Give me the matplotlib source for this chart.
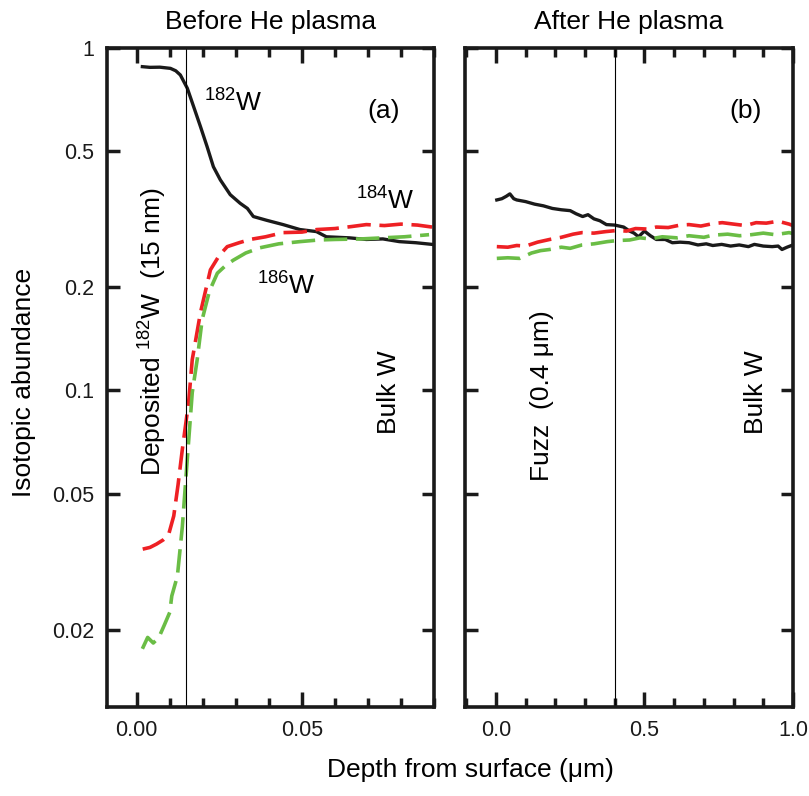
import matplotlib
matplotlib.use("Agg")
import matplotlib.pyplot as plt
from matplotlib.ticker import FixedLocator, FixedFormatter, MultipleLocator

plt.rcParams["font.family"] = ["Liberation Sans", "DejaVu Sans"]
plt.rcParams["mathtext.fontset"] = "custom"
plt.rcParams["mathtext.rm"] = "Liberation Sans"
plt.rcParams["mathtext.it"] = "Liberation Sans:italic"

# panel (a): before He plasma, depth in um
a_x_182 = [0.0017, 0.004, 0.007, 0.0102, 0.0118, 0.0132, 0.0153, 0.0172, 0.0193, 0.0213, 0.0232,
           0.0253, 0.0283, 0.0313, 0.0335, 0.0353, 0.0393, 0.0443, 0.0494, 0.0544, 0.0574,
           0.0644, 0.0695, 0.0745, 0.0795, 0.0845, 0.0894]
a_y_182 = [0.882, 0.878, 0.879, 0.872, 0.858, 0.834, 0.763, 0.675, 0.589, 0.515, 0.450,
           0.412, 0.373, 0.352, 0.340, 0.322, 0.314, 0.305, 0.295, 0.291, 0.281,
           0.279, 0.276, 0.277, 0.272, 0.270, 0.267]

a_x_184 = [0.0018, 0.004, 0.006, 0.008, 0.0096, 0.0112, 0.0125, 0.0138, 0.0157, 0.0168, 0.0193,
           0.0223, 0.0250, 0.0274, 0.0310, 0.0343, 0.0390, 0.0443, 0.0500, 0.0545, 0.0600,
           0.0650, 0.0695, 0.0750, 0.0800, 0.0850, 0.0894]
a_y_184 = [0.0344, 0.0348, 0.0356, 0.0366, 0.0378, 0.043, 0.053, 0.0673, 0.0923, 0.123, 0.169,
           0.225, 0.248, 0.263, 0.270, 0.276, 0.281, 0.289, 0.290, 0.295, 0.297,
           0.301, 0.305, 0.303, 0.306, 0.304, 0.300]

a_x_186 = [0.0017, 0.0033, 0.0050, 0.0067, 0.0083, 0.0100, 0.0106, 0.0123, 0.0138, 0.0153, 0.0168,
           0.0183, 0.0198, 0.022, 0.0244, 0.0270, 0.0292, 0.0330, 0.0373, 0.0430, 0.0494,
           0.0550, 0.0600, 0.0680, 0.0744, 0.0810, 0.0885]
a_y_186 = [0.0176, 0.0190, 0.0183, 0.0190, 0.0206, 0.0225, 0.0251, 0.0287, 0.040, 0.063, 0.0986,
           0.123, 0.161, 0.195, 0.220, 0.232, 0.240, 0.252, 0.261, 0.268, 0.272,
           0.275, 0.276, 0.277, 0.279, 0.281, 0.285]

# panel (b): after He plasma, depth in um
b_x_182 = [0.003, 0.02, 0.035, 0.047, 0.06, 0.07, 0.10, 0.13, 0.16, 0.19, 0.22, 0.25, 0.27, 0.292,
           0.31, 0.33, 0.35, 0.372, 0.40, 0.43, 0.45, 0.465, 0.48, 0.50, 0.52, 0.54, 0.57,
           0.594, 0.62, 0.65, 0.68, 0.708, 0.73, 0.76, 0.79, 0.819, 0.85, 0.87, 0.90, 0.93,
           0.95, 0.963, 0.98, 1.0]
b_y_182 = [0.360, 0.363, 0.369, 0.375, 0.363, 0.360, 0.356, 0.350, 0.346, 0.340, 0.337, 0.335, 0.328,
           0.322, 0.326, 0.317, 0.313, 0.305, 0.304, 0.300, 0.292, 0.288, 0.281, 0.292, 0.283,
           0.276, 0.276, 0.270, 0.271, 0.270, 0.266, 0.268, 0.265, 0.267, 0.264, 0.266, 0.263,
           0.267, 0.264, 0.263, 0.264, 0.258, 0.262, 0.266]

b_x_184 = [0.003, 0.04, 0.07, 0.10, 0.14, 0.181, 0.22, 0.26, 0.29, 0.33, 0.37, 0.405, 0.44,
           0.47, 0.51, 0.54, 0.58, 0.62, 0.65, 0.69, 0.73, 0.762, 0.80, 0.84, 0.876, 0.91,
           0.95, 0.987, 1.0]
b_y_184 = [0.263, 0.262, 0.265, 0.264, 0.271, 0.276, 0.280, 0.286, 0.289, 0.288, 0.291, 0.293,
           0.292, 0.297, 0.296, 0.300, 0.299, 0.304, 0.305, 0.302, 0.307, 0.309, 0.306, 0.303,
           0.309, 0.308, 0.312, 0.306, 0.303]

b_x_186 = [0.003, 0.04, 0.08, 0.12, 0.15, 0.181, 0.22, 0.25, 0.29, 0.33, 0.375, 0.41, 0.45,
           0.485, 0.52, 0.56, 0.61, 0.65, 0.70, 0.73, 0.78, 0.82, 0.86, 0.90, 0.94, 0.987, 1.0]
b_y_186 = [0.243, 0.244, 0.243, 0.252, 0.256, 0.258, 0.262, 0.260, 0.266, 0.268, 0.272, 0.274,
           0.275, 0.279, 0.277, 0.281, 0.279, 0.283, 0.280, 0.284, 0.286, 0.283, 0.285, 0.288,
           0.285, 0.289, 0.287]

y_ticks = [0.02, 0.05, 0.1, 0.2, 0.5, 1]
y_tick_labels = ["0.02", "0.05", "0.1", "0.2", "0.5", "1"]

black = "#1a1a1a"
red = "#ee2024"
green = "#6abd45"
dash = (0, (6.5, 2.4))

fig = plt.figure(figsize=(8.09, 7.96), dpi=100)
ax_a = fig.add_axes([0.1323, 0.1118, 0.4042, 0.8279])
ax_b = fig.add_axes([0.5748, 0.1118, 0.4054, 0.8279])

ax_a.plot(a_x_182, a_y_182, color=black, lw=2.4)
ax_a.plot(a_x_184, a_y_184, color=red, lw=2.6, linestyle=dash)
ax_a.plot(a_x_186, a_y_186, color=green, lw=2.6, linestyle=dash)
ax_a.axvline(0.015, color="black", lw=0.8)

ax_b.plot(b_x_182, b_y_182, color=black, lw=2.4)
ax_b.plot(b_x_184, b_y_184, color=red, lw=2.6, linestyle=dash)
ax_b.plot(b_x_186, b_y_186, color=green, lw=2.6, linestyle=dash)
ax_b.axvline(0.4, color="black", lw=0.8)

for ax in (ax_a, ax_b):
    ax.set_yscale("log")
    ax.set_ylim(0.0119, 1.0)
    ax.yaxis.set_major_locator(FixedLocator(y_ticks))
    ax.yaxis.set_minor_locator(FixedLocator([]))
    ax.tick_params(which="both", direction="in", top=True, right=True, width=2.5,
                   labelsize=15.5, pad=9, colors=black)
    ax.tick_params(axis="x", which="major", length=11)
    ax.tick_params(axis="x", which="minor", length=6.5)
    ax.tick_params(axis="y", which="major", length=9)
    for s in ax.spines.values():
        s.set_linewidth(2.6)
        s.set_color(black)

ax_a.yaxis.set_major_formatter(FixedFormatter(y_tick_labels))
ax_b.tick_params(axis="y", labelleft=False)

ax_a.set_xlim(-0.009, 0.09)
ax_a.xaxis.set_major_locator(FixedLocator([0.0, 0.05]))
ax_a.xaxis.set_major_formatter(FixedFormatter(["0.00", "0.05"]))
ax_a.xaxis.set_minor_locator(MultipleLocator(0.01))

ax_b.set_xlim(-0.104, 1.0)
ax_b.xaxis.set_major_locator(FixedLocator([0.0, 0.5, 1.0]))
ax_b.xaxis.set_major_formatter(FixedFormatter(["0.0", "0.5", "1.0"]))
ax_b.xaxis.set_minor_locator(MultipleLocator(0.1))

fs = 19
ax_a.set_title("Before He plasma", fontsize=fs, pad=14)
ax_b.set_title("After He plasma", fontsize=fs, pad=14)
fig.text(24 / 809, 0.52, "Isotopic abundance", fontsize=fs, rotation=90, ha="center", va="center")
fig.text(0.5816, 0.024, "Depth from surface (\u03bcm)", fontsize=fs, ha="center", va="baseline")

ax_a.text(0.0205, 0.65, r"$^{182}$W", fontsize=fs, va="baseline")
ax_a.text(0.0665, 0.337, r"$^{184}$W", fontsize=fs, va="baseline")
ax_a.text(0.0364, 0.19, r"$^{186}$W", fontsize=fs, va="baseline")
ax_a.text(0.0747, 0.655, "(a)", fontsize=fs, ha="center", va="center")
ax_a.text(0.0048, 0.148, r"Deposited $^{182}$W  (15 nm)", fontsize=fs, rotation=90,
          ha="center", va="center")
ax_a.text(0.0765, 0.0986, "Bulk W", fontsize=fs, rotation=90, ha="center", va="center")

ax_b.text(0.842, 0.655, "(b)", fontsize=fs, ha="center", va="center")
ax_b.text(0.154, 0.0967, "Fuzz  (0.4 \u03bcm)", fontsize=fs, rotation=90, ha="center", va="center")
ax_b.text(0.876, 0.099, "Bulk W", fontsize=fs, rotation=90, ha="center", va="center")

fig.savefig("out.png", dpi=100)
